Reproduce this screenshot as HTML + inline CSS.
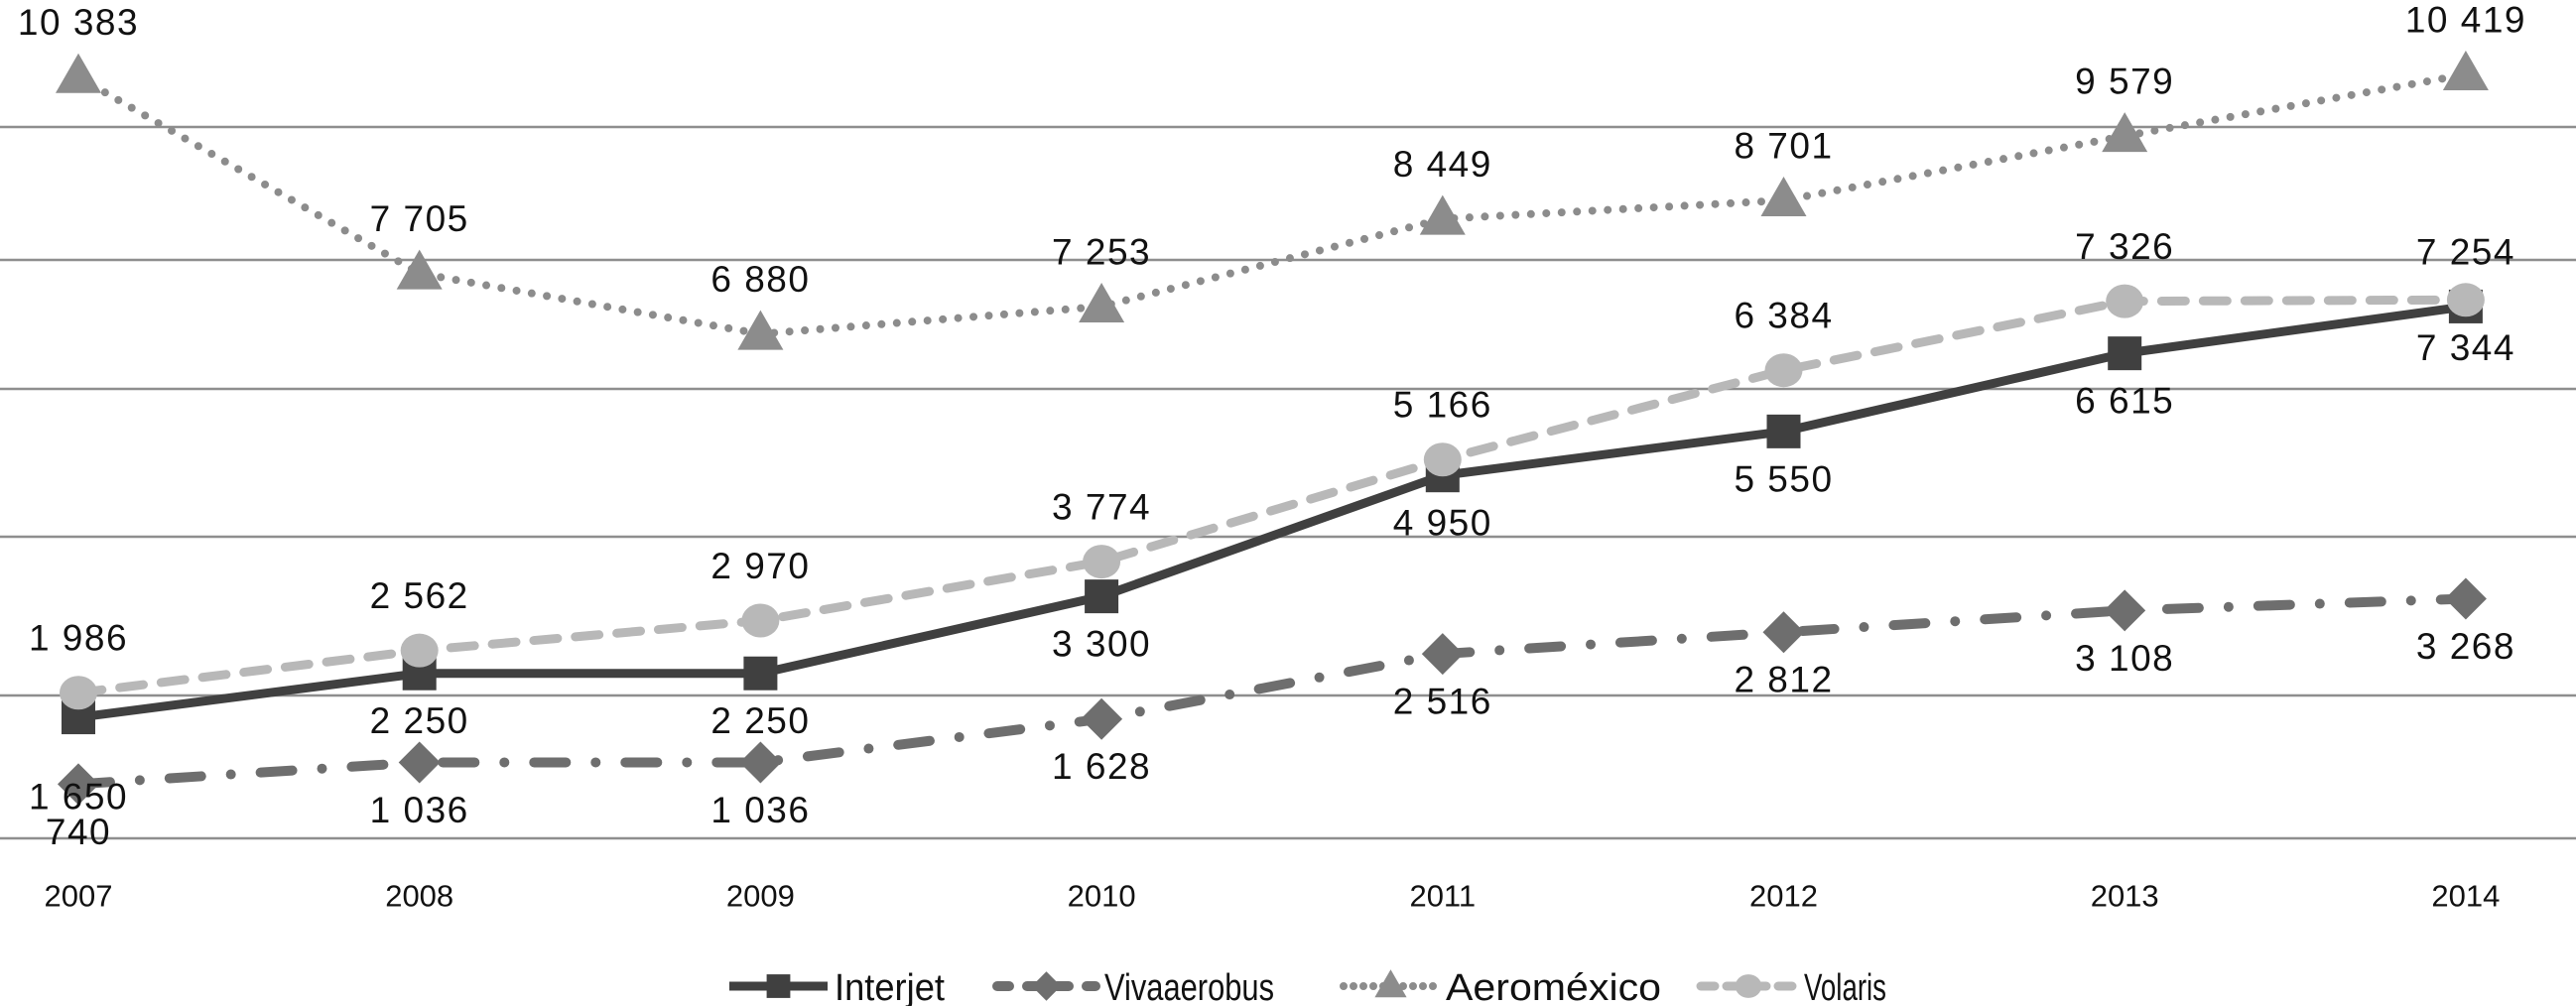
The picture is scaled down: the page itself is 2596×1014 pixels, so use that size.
<!DOCTYPE html>
<html><head><meta charset="utf-8"><style>
html,body{margin:0;padding:0;background:#fff;}
svg{display:block;font-family:"Liberation Sans",sans-serif;}
</style></head><body>
<svg id="chart" width="2596" height="1014" viewBox="0 0 2596 1014" xmlns="http://www.w3.org/2000/svg">
<g id="grid"></g>
<g id="series"></g>
<g id="xaxis"></g>
<g id="legend"></g>
</svg>
<script>
const years = ["2007","2008","2009","2010","2011","2012","2013","2014"];
const interjet = [1650,2250,2250,3300,4950,5550,6615,7254];
const vivaaerobus = [740,1036,1036,1628,2516,2812,3108,3268];
const aeromexico = [10383,7705,6880,7253,8449,8701,9579,10419];
const volaris = [1986,2562,2970,3774,5166,6384,7326,7344];
const interjetLabels = ["1 650","2 250","2 250","3 300","4 950","5 550","6 615","7 254"];
const vivaLabels = ["740","1 036","1 036","1 628","2 516","2 812","3 108","3 268"];
const aeroLabels = ["10 383","7 705","6 880","7 253","8 449","8 701","9 579","10 419"];
const volarisLabels = ["1 986","2 562","2 970","3 774","5 166","6 384","7 326","7 344"];
const interjetSide = ["below2","below","below","below","below","below","below","above"];
const vivaSide = ["below","below","below","below","below","below","below","below"];
const aeroSide = ["above","above","above","above","above","above","above","above"];
const volarisSide = ["above","above","above","above","above","above","above","below"];

const NS="http://www.w3.org/2000/svg";
function xScale(i){return 79 + i*343.7;}
function yScale(v){return 845 - v*0.0739;}
function mk(tag,attrs,parent){const e=document.createElementNS(NS,tag);for(const k in attrs)e.setAttribute(k,attrs[k]);parent.appendChild(e);return e;}

const grid=document.getElementById('grid');
[128,262,392,541,701,845].forEach(function(y){
  const l=mk('line',{x1:0,x2:2596,y1:y,y2:y,stroke:'#8e8e8e','stroke-width':2.5},grid);
  
  
});

const xa=document.getElementById('xaxis');
years.forEach(function(yr,i){
  const t=mk('text',{x:xScale(i),y:903,'text-anchor':'middle','dominant-baseline':'central','font-size':31,fill:'#111'},xa);
  t.textContent=yr;
  
  
});

const sg=document.getElementById('series');
const series=[
 {name:'aeromexico',vals:aeromexico,labels:aeroLabels,side:aeroSide,color:'#8c8c8c',w:8,dash:'0 15.5',marker:'triangle'},
 {name:'vivaaerobus',vals:vivaaerobus,labels:vivaLabels,side:vivaSide,color:'#6e6e6e',w:10,dash:'32 30 0 30',marker:'diamond'},
 {name:'interjet',vals:interjet,labels:interjetLabels,side:interjetSide,color:'#404040',w:9,dash:'',marker:'square'},
 {name:'volaris',vals:volaris,labels:volarisLabels,side:volarisSide,color:'#b8b8b8',w:9,dash:'24 18',marker:'circle'}
];
function drawMarker(type,cx,cy,color,parent){
  let m;
  if(type==='square') m=mk('rect',{x:cx-17,y:cy-17,width:34,height:34,fill:color},parent);
  else if(type==='diamond') m=mk('polygon',{points:(cx)+','+(cy-21)+' '+(cx+21)+','+cy+' '+cx+','+(cy+21)+' '+(cx-21)+','+cy,fill:color},parent);
  else if(type==='triangle') m=mk('polygon',{points:cx+','+(cy-24)+' '+(cx+23)+','+(cy+16)+' '+(cx-23)+','+(cy+16),fill:color},parent);
  else m=mk('ellipse',{cx:cx,cy:cy,rx:19,ry:17,fill:color},parent);
  return m;
}
series.forEach(function(s){
  const g=mk('g',{},sg);
  
  
  const pts=s.vals.map(function(v,i){return xScale(i)+','+yScale(v);}).join(' ');
  const attrs={points:pts,fill:'none',stroke:s.color,'stroke-width':s.w,'stroke-linecap':'round','stroke-linejoin':'round'};
  if(s.dash) attrs['stroke-dasharray']=s.dash;
  if(!s.dash) attrs['stroke-linecap']='butt';
  const pl=mk('polyline',attrs,g);
  
  
  s.vals.forEach(function(v,i){
    const m=drawMarker(s.marker,xScale(i),yScale(v),s.color,g);
    
    
  });
  s.g=g;
});
// labels on top
const lg=mk('g',{},sg);


series.forEach(function(s){
  s.vals.forEach(function(v,i){
    const side=s.side[i];
    const off= side==='above' ? -55 : (side==='below2' ? 80 : 48);
    const t=mk('text',{x:xScale(i),y:yScale(v)+off,'text-anchor':'middle','dominant-baseline':'central','font-size':37,'letter-spacing':1.5,fill:'#111'},lg);
    t.textContent=s.labels[i];
    
    
  });
});

const leg=document.getElementById('legend');
const legItems=[
 {label:'Interjet',x1:735,x2:834,tx:841,tw:111,s:series[2]},
 {label:'Vivaaerobus',x1:1005,x2:1104,tx:1113,tw:171,s:series[1]},
 {label:'Aeroméxico',x1:1354,x2:1449,tx:1457,tw:217,s:series[0]},
 {label:'Volaris',x1:1714,x2:1810,tx:1818,tw:83,s:series[3]}
];
legItems.forEach(function(it){
  const g=mk('g',{},leg);
  
  
  const la={x1:it.x1,x2:it.x2,y1:994,y2:994,stroke:it.s.color,'stroke-width':it.s.w,'stroke-linecap':it.s.dash?'round':'butt'};
  if(it.s.dash) la['stroke-dasharray']=it.s.name==='vivaaerobus'?'12 18':(it.s.name==='aeromexico'?'0 10':'14 12');
  const ln=mk('line',la,g);
  
  
  const cx=(it.x1+it.x2)/2;
  const m=drawMarker(it.s.marker,cx,994,it.s.color,g);
  m.setAttribute('transform','translate('+cx+',994) scale(0.7) translate('+(-cx)+',-994)');
  
  
  const t=mk('text',{x:it.tx,y:996,'dominant-baseline':'central','font-size':38,textLength:it.tw,lengthAdjust:'spacingAndGlyphs',fill:'#111'},g);
  t.textContent=it.label;
  
  
});
</script>
</body></html>
